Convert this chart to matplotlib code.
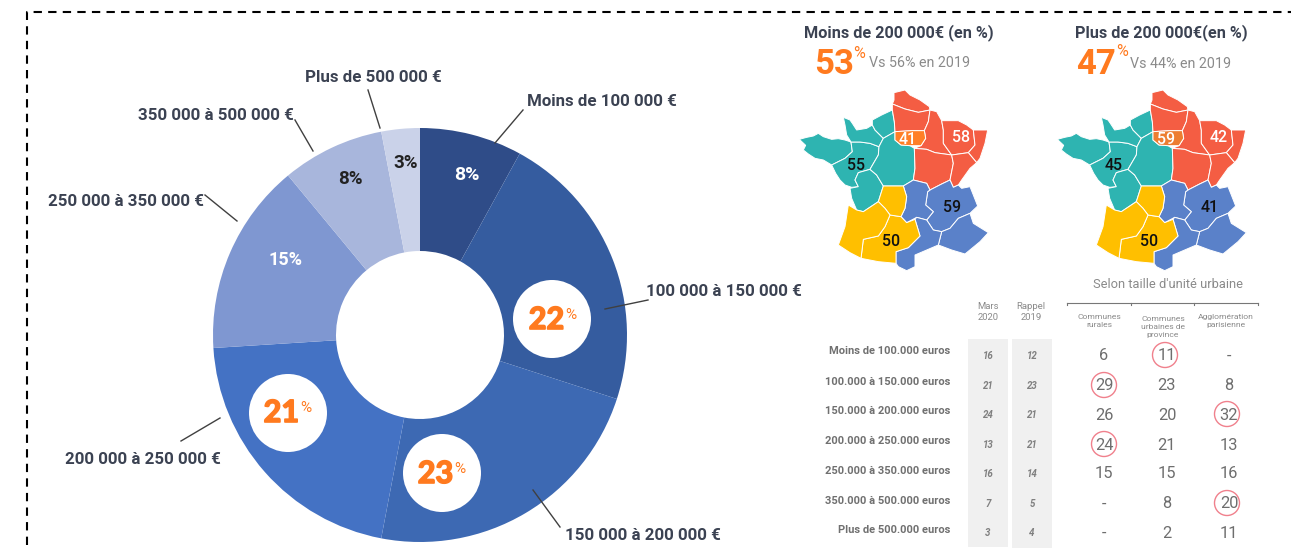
import matplotlib
matplotlib.use('Agg')
import matplotlib.pyplot as plt
import matplotlib.patheffects as pe
from matplotlib.patches import Circle, Polygon

plt.rcParams['font.family'] = ['Roboto', 'DejaVu Sans']

W, H = 1291, 550

# donut
pie_labels = ['Moins de 100 000 €', '100 000 à 150 000 €', '150 000 à 200 000 €', '200 000 à 250 000 €',
              '250 000 à 350 000 €', '350 000 à 500 000 €', 'Plus de 500 000 €']
pie_values = [8, 22, 23, 21, 15, 8, 3]
pie_colors = ['#2F4C88', '#355C9F', '#3D69B3', '#4472C4', '#7F97D1', '#A8B6DC', '#CAD2E9']
pie_label_pos = [(527, 101), (646, 291), (565, 536), (65, 460), (48, 202), (138, 116), (305, 78)]
pie_leaders = [((495, 143), (523, 110)), ((605, 309), (648, 300)), ((533, 490), (560, 527)),
               ((220, 418), (181, 441)), ((237, 221), (205, 195)), ((313, 151), (295, 120)),
               ((380, 128), (368, 90))]

# table
row_labels = ['Moins de 100.000 euros', '100.000 à 150.000 euros', '150.000 à 200.000 euros',
              '200.000 à 250.000 euros', '250.000 à 350.000 euros', '350.000 à 500.000 euros',
              'Plus de 500.000 euros']
mars_2020 = [16, 21, 24, 13, 16, 7, 3]
rappel_2019 = [12, 23, 21, 21, 14, 5, 4]
rurales = ['6', '29', '26', '24', '15', '-', '-']
province = ['11', '23', '20', '21', '15', '8', '2']
parisienne = ['-', '8', '32', '13', '16', '20', '11']
row_label_y = [351, 382, 411, 441, 471, 501, 530]
row_y = [356, 386, 415, 445, 474, 504, 533]
col_x = [1104, 1167, 1229]
circled = [(1, 0), (0, 1), (2, 2), (0, 3), (2, 5)]

# regions (3x local pixels), borders share their points
regions_teal = [
    # Bretagne
    [(13,178),(35,172),(55,168),(70,160),(85,170),(110,178),(130,176),(150,180),(168,186),(172,215),(150,235),(110,255),
     (85,240),(60,235),(40,222),(25,210),(32,196)],
    # Pays de la Loire
    [(168,186),(195,186),(225,190),(252,200),(250,225),(225,268),(190,278),(180,300),(190,320),(170,322),(150,315),
     (135,300),(122,280),(110,255),(150,235),(172,215)],
    # Poitou-Charentes
    [(225,268),(245,285),(265,318),(250,365),(205,395),(185,390),(170,355),(165,325),(190,320),(180,300),(190,278)],
    # Basse-Normandie
    [(145,112),(165,120),(172,130),(185,150),(215,145),(232,135),(240,150),(265,175),(252,200),(225,190),(195,186),
     (168,186),(155,165),(150,135)],
    # Haute-Normandie
    [(232,120),(260,105),(292,90),(298,125),(300,155),(265,175),(240,150),(232,135)],
    # Centre
    [(300,155),(300,180),(318,195),(345,197),(358,205),(360,265),(355,300),(325,318),(265,318),(245,285),(225,268),
     (250,225),(252,200),(265,175)],
]
regions_red = [
    # Nord-Pas-de-Calais
    [(297,38),(330,30),(345,45),(375,60),(403,80),(405,90),(370,97),(330,87),(292,72),(297,60)],
    # Picardie
    [(292,72),(330,87),(370,97),(405,90),(400,125),(388,152),(350,152),(300,155),(298,125),(292,90)],
    # Champagne-Ardenne
    [(405,90),(425,95),(440,122),(445,150),(445,190),(470,225),(420,218),(395,208),(358,205),(378,197),(392,175),
     (388,152),(400,125)],
    # Lorraine
    [(440,122),(490,122),(515,135),(535,150),(540,195),(520,218),(470,225),(445,190),(445,150)],
    # Alsace
    [(535,150),(578,150),(570,190),(555,235),(545,248),(520,218),(540,195)],
    # Bourgogne
    [(358,205),(395,208),(420,218),(470,225),(475,250),(465,300),(440,312),(405,330),(395,310),(355,300),(360,265)],
    # Franche-Comte
    [(470,225),(520,218),(545,248),(525,265),(500,300),(490,315),(475,322),(465,300),(475,250)],
]
regions_blue = [
    # Rhone-Alpes
    [(405,330),(440,312),(465,300),(475,322),(490,315),(500,325),(525,320),(535,345),(548,378),(530,395),(525,400),
     (490,415),(465,445),(440,455),(415,450),(395,420),(415,395),(392,375),(398,335)],
    # Auvergne
    [(325,318),(355,300),(395,310),(405,330),(398,335),(392,375),(415,395),(395,420),(365,412),(335,428),(318,410),
     (330,385),(335,350)],
    # PACA
    [(525,400),(535,430),(580,458),(555,485),(510,522),(470,510),(430,495),(440,455),(465,445),(490,415)],
    # Languedoc-Roussillon
    [(365,412),(395,420),(415,450),(440,455),(430,495),(395,510),(360,525),(360,560),(335,572),(310,560),(303,550),
     (303,515),(340,503),(375,468),(360,418)],
]
regions_yellow = [
    # Midi-Pyrenees
    [(285,405),(318,410),(335,428),(360,418),(375,468),(340,503),(303,515),(303,550),(250,545),(198,535),(205,478),
     (250,468),(270,440)],
    # Limousin
    [(265,318),(325,318),(335,350),(330,385),(318,410),(285,405),(270,385),(250,365)],
    # Aquitaine
    [(160,375),(185,390),(205,395),(250,365),(270,385),(285,405),(270,440),(250,468),(205,478),(198,535),(165,518),
     (130,495),(150,440)],
]
region_paris = [(300,155),(350,152),(388,152),(392,175),(378,197),(345,197),(318,195),(300,180)]

map_left = {'x0': 795, 'idf': '#FF7F27', 'vals': ['55', '41', '58', '59', '50']}
map_right = {'x0': 1053, 'idf': '#ED7D31', 'vals': ['45', '59', '42', '41', '50']}

DARK = '#3B4252'
GREY = '#8A8A8A'
ORANGE = '#FF7A1F'

fig = plt.figure(figsize=(W / 100, H / 100), dpi=100)

# pie in its own axes
cx, cy, r = 420, 335, 207
ax_pie = fig.add_axes([(cx - r) / W, (H - cy - r) / H, 2 * r / W, 2 * r / H])
ax_pie.pie(pie_values, colors=pie_colors, startangle=90, counterclock=False, radius=1,
           wedgeprops={'width': 1 - 84 / 207})
ax_pie.set_xlim(-1, 1)
ax_pie.set_ylim(-1, 1)

# everything else in picture pixels
ax = fig.add_axes([0, 0, 1, 1], zorder=5)
ax.set_xlim(0, W)
ax.set_ylim(H, 0)
ax.axis('off')

ax.plot([27, 27, W], [545, 12, 12], color='black', lw=1.5, ls=(0, (4, 3)))

for label, pos, lead in zip(pie_labels, pie_label_pos, pie_leaders):
    ax.text(pos[0], pos[1], label, fontsize=12.2, fontweight='bold', color=DARK, ha='left', va='center')
    ax.plot([lead[0][0], lead[1][0]], [lead[0][1], lead[1][1]], color='#404040', lw=1)

ax.text(467, 175, '8%', fontsize=14, fontweight='bold', color='white', ha='center', va='center')
ax.text(285, 260, '15%', fontsize=13, fontweight='bold', color='white', ha='center', va='center')
ax.text(350, 179, '8%', fontsize=13.5, fontweight='bold', color='#222222', ha='center', va='center')
ax.text(406, 163, '3%', fontsize=13.5, fontweight='bold', color='#222222', ha='center', va='center')

heavy = [pe.withStroke(linewidth=1.2, foreground=ORANGE)]
for (x, y, tx, ty, txt) in [(552, 319, 564, 320, '22'), (288, 413, 299, 413, '21'), (442, 473, 453, 474, '23')]:
    ax.add_patch(Circle((x, y), 39, fc='white', ec='none'))
    ax.text(tx, ty, txt, fontsize=22, fontweight='bold', family='Lato', color=ORANGE, ha='right', va='center',
            path_effects=heavy)
    ax.text(tx + 1, ty - 5, '%', fontsize=11, color=ORANGE, ha='left', va='center')

# headers of the two maps
ax.text(899, 33, 'Moins de 200 000€ (en %)', fontsize=11.7, fontweight='bold', color=DARK, ha='center', va='center')
ax.text(1161, 33, 'Plus de 200 000€(en %)', fontsize=11.7, fontweight='bold', color=DARK, ha='center', va='center')
ax.text(814, 64, '53', fontsize=25, fontweight='bold', color=ORANGE, ha='left', va='center')
ax.text(853, 53, '%', fontsize=11.5, color=ORANGE, ha='left', va='center')
ax.text(869, 63, 'Vs 56% en 2019', fontsize=10.3, color=GREY, ha='left', va='center')
ax.text(1076, 64, '47', fontsize=25, fontweight='bold', color=ORANGE, ha='left', va='center')
ax.text(1116, 52, '%', fontsize=11.5, color=ORANGE, ha='left', va='center')
ax.text(1130, 64, 'Vs 44% en 2019', fontsize=10.3, color=GREY, ha='left', va='center')

# maps
def draw_map(m):
    x0 = m['x0']
    groups = [(regions_teal, '#2EB4B1'), (regions_red, '#F45D43'), (regions_blue, '#5A81C9'), (regions_yellow, '#FFBF00')]
    for regions, color in groups:
        for reg in regions:
            pts = [(x0 + px / 3, 80 + py / 3) for px, py in reg]
            ax.add_patch(Polygon(pts, closed=True, fc=color, ec='white', lw=0.7))
    pts = [(x0 + px / 3, 80 + py / 3) for px, py in region_paris]
    ax.add_patch(Polygon(pts, closed=True, fc=m['idf'], ec='white', lw=0.7))
    label_pos = [(61, 85), (113, 59), (166, 57), (157, 127), (96, 161)]
    label_col = ['#111111', 'white', 'white', '#111111', '#111111']
    for val, pos, col in zip(m['vals'], label_pos, label_col):
        ax.text(x0 + pos[0], 80 + pos[1], val, fontsize=11.5, fontweight='medium', color=col, ha='center', va='center')

draw_map(map_left)
draw_map(map_right)

# table
ax.text(1168, 284, "Selon taille d'unité urbaine", fontsize=9.3, color=GREY, ha='center', va='center')
ax.text(988, 312, 'Mars\n2020', fontsize=6.8, color=GREY, ha='center', va='center', linespacing=1.25)
ax.text(1031, 312, 'Rappel\n2019', fontsize=6.8, color=GREY, ha='center', va='center', linespacing=1.25)
ax.plot([1067, 1258], [303, 303], color='#777777', lw=0.8)
for x in [1067, 1131, 1194, 1258]:
    ax.plot([x, x], [303, 305], color='#777777', lw=0.8)
ax.text(1099, 321, 'Communes\nrurales', fontsize=6.1, color=GREY, ha='center', va='center', linespacing=1.35)
ax.text(1163, 327, 'Communes\nurbaines de\nprovince', fontsize=6.1, color=GREY, ha='center', va='center', linespacing=1.35)
ax.text(1226, 321, 'Agglomération\nparisienne', fontsize=6.1, color=GREY, ha='center', va='center', linespacing=1.35)

ax.fill_between([968, 1008], 339, 547, color='#F0F0F0', lw=0)
ax.fill_between([1012, 1052], 339, 548, color='#F0F0F0', lw=0)

for i, label in enumerate(row_labels):
    ax.text(950, row_label_y[i], label, fontsize=8, fontweight='bold', color='#707070', ha='right', va='center')
    ax.text(988, row_y[i], str(mars_2020[i]), fontsize=7, fontweight='bold', style='italic', color='#808080', ha='center', va='center')
    ax.text(1032, row_y[i], str(rappel_2019[i]), fontsize=7, fontweight='bold', style='italic', color='#808080', ha='center', va='center')
    for x, col in zip(col_x, [rurales, province, parisienne]):
        ax.text(x, row_y[i], col[i], fontsize=11.8, color='#6E6E6E', ha='center', va='center')

for c, i in circled:
    ax.add_patch(Circle((col_x[c] - 2 if c else col_x[c], row_y[i] - 1), 12.5, fc='none', ec='#F0808C', lw=1))

fig.savefig('out.png', dpi=100)
